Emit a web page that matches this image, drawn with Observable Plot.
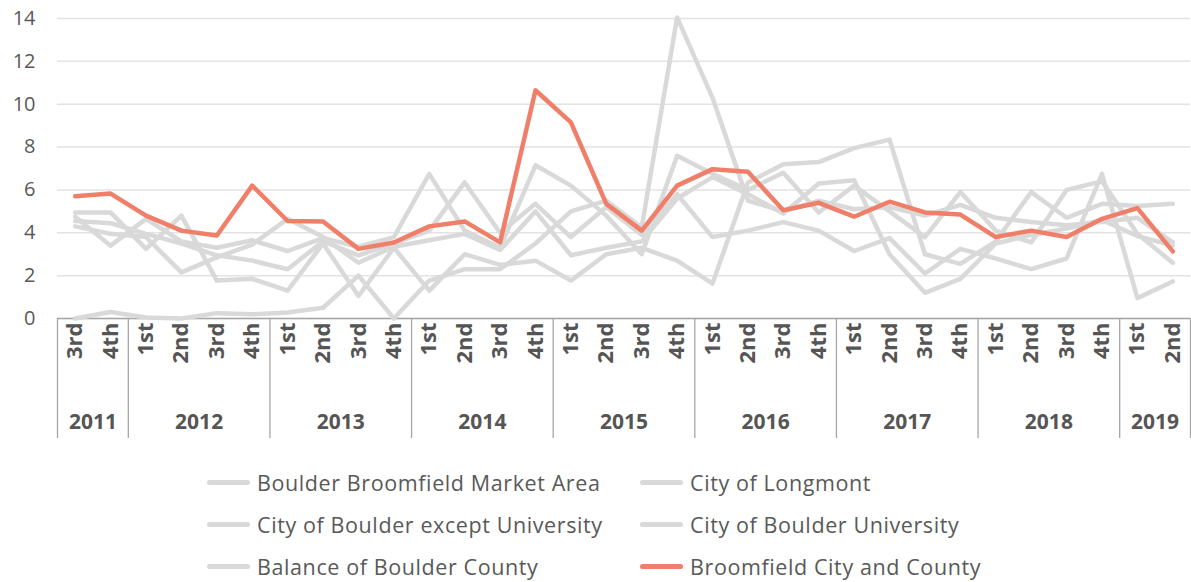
<!DOCTYPE html>
<html>
<head>
<meta charset="utf-8">
<script src="https://cdn.jsdelivr.net/npm/d3@7"></script>
<script src="https://cdn.jsdelivr.net/npm/@observablehq/plot@0.6"></script>
<style>
  html, body { margin: 0; padding: 0; background: #fff; }
  body { width: 1191px; height: 582px; overflow: hidden; font-family: "Open Sans", sans-serif; }
  #legend { margin-top: 16px; display: grid; grid-template-columns: 433px 400px; padding-left: 207px; row-gap: 0; }
  .item { display: flex; align-items: center; height: 42px; font-size: 21.5px; letter-spacing: 0.6px; color: #595959; white-space: nowrap; }
  .sw { width: 43px; height: 5px; border-radius: 3px; margin-right: 7px; flex: none; }
</style>
</head>
<body>
<div id="chart"></div>
<div id="legend"></div>
<script>
const quarters = ["3rd","4th",
  "1st","2nd","3rd","4th", "1st","2nd","3rd","4th", "1st","2nd","3rd","4th",
  "1st","2nd","3rd","4th", "1st","2nd","3rd","4th", "1st","2nd","3rd","4th",
  "1st","2nd","3rd","4th", "1st","2nd"];
const years = ["2011","2012","2013","2014","2015","2016","2017","2018","2019"];
const quartersPerYear = [2,4,4,4,4,4,4,4,2];

const seriesNames = [
  "Boulder Broomfield Market Area",
  "City of Longmont",
  "City of Boulder except University",
  "City of Boulder University",
  "Balance of Boulder County",
  "Broomfield City and County"
];

const marketArea = [4.75,3.4,4.65,3.6,3.3,3.65,3.15,3.75, 3.35,3.8,6.75,4.1,3.3,7.15,6.2,4.8,
  3.0,7.6,6.75,6.0,6.8,4.95,6.2,5.0, 3.8,5.9,4.1,3.55,6.0,6.4,3.95,2.6];
const longmont = [4.95,4.95,3.25,4.8,1.77,1.85,1.3,3.5, 1.05,3.3,1.3,3.0,2.5,2.7,1.77,3.0,
  3.3,2.7,1.63,6.35,7.2,7.3,7.95,8.35, 3.0,2.55,3.6,5.9,4.7,5.35,5.25,5.35];
const boulderExceptUniv = [4.55,4.45,3.95,3.5,2.95,2.7,2.3,3.6, 2.95,3.5,4.1,6.35,4.0,5.35,3.8,5.2,
  3.9,5.8,3.8,4.1,4.5,4.1,3.15,3.75, 2.1,3.25,2.8,2.3,2.8,6.75,0.95,1.73];
const boulderUniv = [0,0.3,0.05,0,0.25,0.2,0.28,0.5, 2.0,0,1.77,2.3,2.3,3.5,5.0,5.5,
  4.25,14.05,10.3,5.5,5.0,5.5,5.1,5.2, 4.8,5.3,4.7,4.5,4.35,4.5,4.7,3.55];
const balanceCounty = [4.3,3.95,3.8,2.15,2.85,3.45,4.65,3.8, 2.6,3.35,3.65,3.95,3.2,5.0,2.95,3.3,
  3.6,5.6,6.6,5.8,4.9,6.3,6.45,3.0, 1.2,1.85,3.5,3.9,4.2,4.6,3.85,3.4];
const broomfield = [5.7,5.83,4.8,4.1,3.87,6.2,4.55,4.53, 3.25,3.55,4.3,4.53,3.55,10.65,9.15,5.35,
  4.1,6.2,6.97,6.85,5.05,5.4,4.75,5.45, 4.95,4.85,3.8,4.1,3.8,4.65,5.15,3.13];

const yTicks = [0,2,4,6,8,10,12,14];

const GREY = "#d9d9d9";
const RED = "#f07f69";
const TEXT = "#595959";

const greySeries = [
  [seriesNames[0], marketArea],
  [seriesNames[1], longmont],
  [seriesNames[2], boulderExceptUniv],
  [seriesNames[3], boulderUniv],
  [seriesNames[4], balanceCounty]
];
const greyData = greySeries.flatMap(([name, vals]) => vals.map((v, i) => ({name, i, v})));
const redData = broomfield.map((v, i) => ({name: seriesNames[5], i, v}));

let start = 0;
const yearGroups = years.map((y, k) => {
  const g = {year: y, start, end: start + quartersPerYear[k]};
  start += quartersPerYear[k];
  return g;
});
const boundaries = [-0.5, ...yearGroups.map(g => g.end - 0.5)];

const chart = Plot.plot({
  width: 1191,
  height: 445,
  marginLeft: 57,
  marginRight: 1,
  marginTop: 18,
  marginBottom: 127,
  style: {fontFamily: "'Open Sans', sans-serif", fontSize: "20px", color: TEXT, background: "#fff"},
  x: {type: "linear", domain: [-0.5, quarters.length - 0.5], axis: null},
  y: {domain: [0, 14], ticks: yTicks, tickSize: 0, tickPadding: 22, label: null},
  marks: [
    Plot.gridY(yTicks, {stroke: "#e3e3e3", strokeOpacity: 1, strokeWidth: 1.5}),
    Plot.ruleY([0], {stroke: "#a6a6a6", strokeWidth: 1.3}),
    Plot.ruleX(boundaries, {stroke: "#a6a6a6", strokeWidth: 1.3, insetTop: 300, insetBottom: -120}),
    Plot.line(greyData, {x: "i", y: "v", z: "name", stroke: GREY, strokeWidth: 4.5}),
    Plot.line(redData, {x: "i", y: "v", stroke: RED, strokeWidth: 4.5}),
    Plot.text(quarters, {x: (d, i) => i, text: d => d, frameAnchor: "bottom", dy: 4, rotate: -90,
      textAnchor: "end", lineAnchor: "middle", fontSize: 22, fontWeight: "bold", fill: "#555"}),
    Plot.text(yearGroups, {x: g => (g.start + g.end - 1) / 2, text: "year", frameAnchor: "bottom", dy: 104,
      lineAnchor: "middle", fontSize: 21, fontWeight: "bold", fill: "#555"})
  ]
});
document.getElementById("chart").appendChild(chart);

const legend = document.getElementById("legend");
seriesNames.forEach((n, k) => {
  const it = document.createElement("div");
  it.className = "item";
  const sw = document.createElement("span");
  sw.className = "sw";
  sw.style.background = k === 5 ? RED : GREY;
  it.appendChild(sw);
  it.appendChild(document.createTextNode(n));
  legend.appendChild(it);
});
</script>
</body>
</html>
